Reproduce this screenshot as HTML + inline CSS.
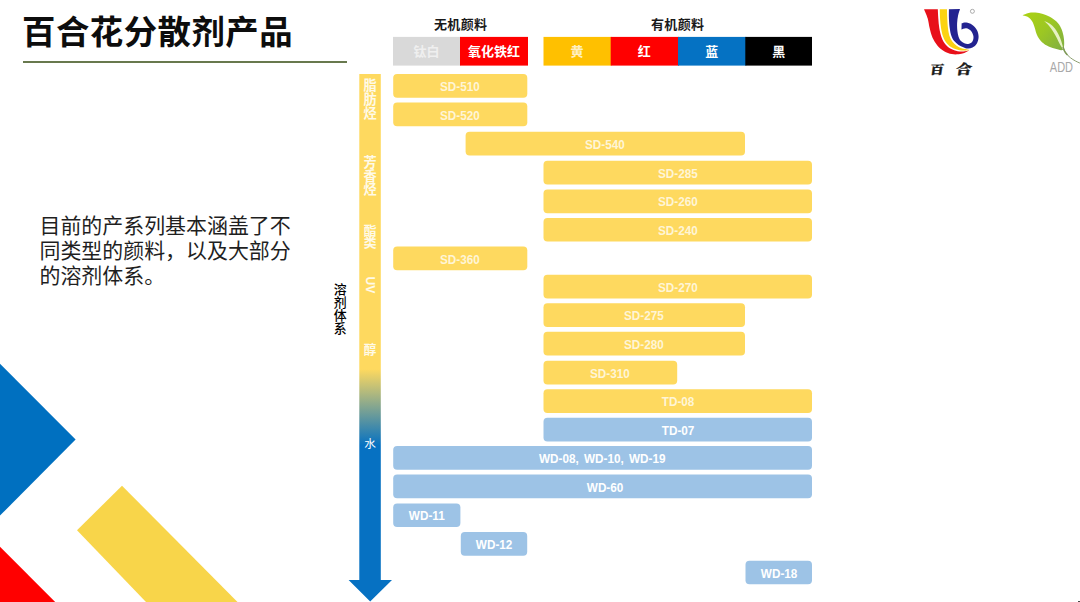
<!DOCTYPE html>
<html lang="zh-CN">
<head>
<meta charset="utf-8">
<title>百合花分散剂产品</title>
<style>
html,body{margin:0;padding:0;background:#fff;}
body{width:1080px;height:602px;overflow:hidden;position:relative;font-family:"Liberation Sans","Noto Sans CJK SC",sans-serif;}
#slide{position:absolute;left:0;top:0;width:1080px;height:602px;overflow:hidden;background:#fff;}
.abs{position:absolute;}
h1{position:absolute;left:22px;top:9.3px;margin:0;font-size:33.4px;line-height:48px;font-weight:700;color:#0d0d0d;white-space:nowrap;letter-spacing:0.5px;}
.rule{position:absolute;left:23px;top:60.7px;width:324px;height:2px;background:#68794E;}
.para{position:absolute;left:39.5px;top:214.3px;width:260px;margin:0;font-size:20.95px;line-height:24.9px;color:#1f1f1f;white-space:nowrap;}
.grp{position:absolute;top:16.4px;font-size:13px;line-height:18px;font-weight:700;color:#1a1a1a;text-align:center;white-space:nowrap;letter-spacing:0.3px;text-indent:0.3px;}
.hd{position:absolute;top:36.9px;height:28.7px;line-height:30.4px;color:#fff;font-size:13px;font-weight:700;text-align:center;white-space:nowrap;}
.hd.dim{color:#efefef;font-weight:700;}
.hd.b{font-weight:700;line-height:30.4px;}
.hd.dimy{color:#FFF0C4;font-weight:700;}
.bar{position:absolute;height:23.7px;line-height:26.3px;border-radius:4px;color:#fff;font-size:12.3px;overflow:hidden;font-weight:700;text-align:center;white-space:nowrap;}
.bar span{display:inline-block;transform:scaleX(0.955);word-spacing:2px;}
.bar.y{color:#FFF5D6;}
.vt{position:absolute;left:359.3px;width:21.5px;text-align:center;color:#fff;font-size:13.2px;line-height:14px;font-weight:400;}
.vt.dim{color:#FFFAE8;font-weight:700;}
.axis{position:absolute;left:333.2px;top:282.8px;width:14px;text-align:center;font-size:12.9px;line-height:13.15px;color:#000;font-weight:500;}
</style>
</head>
<body>
<div id="slide">

<!-- decorative corner shapes -->
<svg class="abs" style="left:0;top:340px" width="270" height="262" viewBox="0 340 270 262">
  <polygon points="0,363.8 75.6,439.6 0,515.6" fill="#0070C0"/>
  <polygon points="122,485.7 237.5,602 146,602 77,530.3" fill="#F8D54A"/>
  <polygon points="0,546.7 55.2,602 0,602" fill="#FF0000"/>
</svg>

<h1>百合花分散剂产品</h1>
<div class="rule"></div>

<p class="para">目前的产系列基本涵盖了不<br>同类型的颜料，以及大部分<br>的溶剂体系。</p>

<!-- chart geometry -->
<svg class="abs" style="left:0;top:0" width="1080" height="602" viewBox="0 0 1080 602">
  <rect x="393.2" y="74.10" width="134.1" height="23.7" rx="4" fill="#FED95F"/>
  <rect x="393.2" y="102.52" width="134.1" height="23.7" rx="4" fill="#FED95F"/>
  <rect x="465.6" y="131.74" width="279.4" height="23.7" rx="4" fill="#FED95F"/>
  <rect x="543.5" y="160.76" width="268.5" height="23.7" rx="4" fill="#FED95F"/>
  <rect x="543.5" y="189.48" width="268.5" height="23.7" rx="4" fill="#FED95F"/>
  <rect x="543.5" y="217.90" width="268.5" height="23.7" rx="4" fill="#FED95F"/>
  <rect x="393.2" y="246.52" width="134.1" height="23.7" rx="4" fill="#FED95F"/>
  <rect x="543.5" y="274.84" width="268.5" height="23.7" rx="4" fill="#FED95F"/>
  <rect x="543.5" y="303.36" width="201.5" height="23.7" rx="4" fill="#FED95F"/>
  <rect x="543.5" y="331.78" width="201.5" height="23.7" rx="4" fill="#FED95F"/>
  <rect x="543.5" y="360.70" width="133.7" height="23.7" rx="4" fill="#FED95F"/>
  <rect x="543.5" y="389.32" width="268.5" height="23.7" rx="4" fill="#FED95F"/>
  <rect x="543.5" y="417.74" width="268.5" height="23.7" rx="4" fill="#9DC3E6"/>
  <rect x="393.2" y="445.96" width="418.8" height="23.7" rx="4" fill="#9DC3E6"/>
  <rect x="393.2" y="474.58" width="418.8" height="23.7" rx="4" fill="#9DC3E6"/>
  <rect x="393.2" y="503.40" width="67.2" height="23.7" rx="4" fill="#9DC3E6"/>
  <rect x="460.8" y="532.02" width="66.4" height="23.7" rx="4" fill="#9DC3E6"/>
  <rect x="745.5" y="560.64" width="66.5" height="23.7" rx="4" fill="#9DC3E6"/>
  <rect x="393" y="36.9" width="68.0" height="28.7" fill="#D9D9D9"/>
  <rect x="460" y="36.9" width="68.0" height="28.7" fill="#FF0000"/>
  <rect x="543.5" y="36.9" width="68.2" height="28.7" fill="#FFC000"/>
  <rect x="610.7" y="36.9" width="68.3" height="28.7" fill="#FF0000"/>
  <rect x="678" y="36.9" width="68.3" height="28.7" fill="#0572C3"/>
  <rect x="745.3" y="36.9" width="66.7" height="28.7" fill="#000000"/>
</svg>

<!-- column group titles -->
<div class="grp" style="left:393px;width:135px">无机颜料</div>
<div class="grp" style="left:543px;width:269px">有机颜料</div>
<div class="hd dim" style="left:393px;width:67.0px">钛白</div>
<div class="hd b" style="left:460px;width:68.0px">氧化铁红</div>
<div class="hd dimy" style="left:543.5px;width:67.2px">黄</div>
<div class="hd " style="left:610.7px;width:67.3px">红</div>
<div class="hd " style="left:678px;width:67.3px">蓝</div>
<div class="hd " style="left:745.3px;width:66.7px">黑</div>

<!-- solvent axis arrow -->
<svg class="abs" style="left:340px;top:70px" width="60" height="532" viewBox="340 70 60 532">
  <defs>
    <linearGradient id="ag" gradientUnits="userSpaceOnUse" x1="0" y1="74" x2="0" y2="601">
      <stop offset="0" stop-color="#FED95F"/>
      <stop offset="0.56" stop-color="#FED95F"/>
      <stop offset="0.705" stop-color="#0671C2"/>
      <stop offset="1" stop-color="#0671C2"/>
    </linearGradient>
  </defs>
  <polygon points="359.3,74.1 380.8,74.1 380.8,580 392,580 370.2,601.6 348.6,580 359.3,580" fill="url(#ag)"/>
</svg>
<div class="vt dim" style="top:78.5px;line-height:14.2px">脂<br>肪<br>烃</div>
<div class="vt dim" style="top:156.4px;line-height:13.2px">芳<br>香<br>烃</div>
<div class="vt dim" style="top:224.6px;line-height:12.3px;font-size:12.8px">酯<br>类</div>
<div class="vt dim" style="top:275.5px;height:18px;line-height:18px;font-size:12.2px;font-weight:700"><span style="display:inline-block;transform:rotate(90deg)">UV</span></div>
<div class="vt dim" style="top:343px;font-size:12.6px">醇</div>
<div class="vt" style="top:437.4px;font-size:11.6px">水</div>
<div class="axis">溶<br>剂<br>体<br>系</div>

<!-- product bars -->
<div class="bar y" style="left:393.2px;top:74.10px;width:134.1px"><span>SD-510</span></div>
<div class="bar y" style="left:393.2px;top:102.52px;width:134.1px"><span>SD-520</span></div>
<div class="bar y" style="left:465.6px;top:131.74px;width:279.4px"><span>SD-540</span></div>
<div class="bar y" style="left:543.5px;top:160.76px;width:268.5px"><span>SD-285</span></div>
<div class="bar y" style="left:543.5px;top:189.48px;width:268.5px"><span>SD-260</span></div>
<div class="bar y" style="left:543.5px;top:217.90px;width:268.5px"><span>SD-240</span></div>
<div class="bar y" style="left:393.2px;top:246.52px;width:134.1px"><span>SD-360</span></div>
<div class="bar y" style="left:543.5px;top:274.84px;width:268.5px"><span>SD-270</span></div>
<div class="bar y" style="left:543.5px;top:303.36px;width:201.5px"><span>SD-275</span></div>
<div class="bar y" style="left:543.5px;top:331.78px;width:201.5px"><span>SD-280</span></div>
<div class="bar y" style="left:543.5px;top:360.70px;width:133.7px"><span>SD-310</span></div>
<div class="bar y" style="left:543.5px;top:389.32px;width:268.5px"><span>TD-08</span></div>
<div class="bar b" style="left:543.5px;top:417.74px;width:268.5px"><span>TD-07</span></div>
<div class="bar b" style="left:393.2px;top:445.96px;width:418.8px"><span>WD-08, WD-10, WD-19</span></div>
<div class="bar b" style="left:393.2px;top:474.58px;width:418.8px;text-indent:3px"><span>WD-60</span></div>
<div class="bar b" style="left:393.2px;top:503.40px;width:67.2px"><span>WD-11</span></div>
<div class="bar b" style="left:460.8px;top:532.02px;width:66.4px"><span>WD-12</span></div>
<div class="bar b" style="left:745.5px;top:560.64px;width:66.5px"><span>WD-18</span></div>

<!-- logos -->
<svg class="abs" style="left:910px;top:0" width="90" height="90" viewBox="0 0 90 90">
  <path d="M14.05,9.30 C14.66,10.83 16.78,15.33 17.71,18.46 C18.64,21.59 18.84,24.88 19.64,28.10 C20.44,31.31 21.24,34.84 22.53,37.73 C23.82,40.63 25.42,43.20 27.35,45.45 C29.28,47.69 31.69,49.78 34.10,51.23 C36.51,52.67 39.40,53.61 41.81,54.12 C44.22,54.63 46.47,54.51 48.55,54.31 C50.64,54.12 52.54,53.64 54.34,52.96 C56.14,52.29 58.51,50.71 59.35,50.27 L59.35,50.27 C58.35,50.47 55.33,51.36 53.37,51.52 C51.41,51.68 49.68,51.68 47.59,51.23 C45.50,50.78 42.85,49.94 40.84,48.82 C38.84,47.69 37.07,46.33 35.54,44.48 C34.02,42.63 32.73,40.47 31.69,37.73 C30.64,35.00 29.84,31.31 29.28,28.10 C28.71,24.88 28.55,21.59 28.31,18.46 C28.07,15.33 27.91,10.83 27.83,9.30 Z" fill="#E8101A"/>
  <path d="M29.76,9.30 C29.81,10.83 29.84,15.33 30.05,18.46 C30.26,21.59 30.50,25.04 31.01,28.10 C31.53,31.15 32.14,34.20 33.13,36.77 C34.13,39.34 35.46,41.67 36.99,43.52 C38.51,45.37 40.36,46.76 42.29,47.86 C44.22,48.95 46.55,49.62 48.55,50.07 C50.56,50.52 52.54,50.59 54.34,50.55 C56.14,50.52 58.51,49.99 59.35,49.88 L59.35,49.88 C58.67,49.75 56.62,49.40 55.30,49.11 C53.98,48.82 52.89,48.71 51.45,48.14 C50.00,47.58 48.15,46.83 46.63,45.73 C45.10,44.64 43.49,43.24 42.29,41.59 C41.08,39.94 40.12,38.06 39.40,35.81 C38.67,33.56 38.31,30.99 37.95,28.10 C37.60,25.20 37.44,21.59 37.28,18.46 C37.12,15.33 37.04,10.83 36.99,9.30 Z" fill="#FBD311"/>
  <path d="M38.92,9.30 C38.92,10.83 38.79,15.33 38.92,18.46 C39.04,21.59 39.29,25.20 39.69,28.10 C40.09,30.99 40.57,33.64 41.33,35.81 C42.08,37.98 43.01,39.58 44.22,41.11 C45.42,42.63 47.03,43.95 48.55,44.96 C50.08,45.98 51.85,46.59 53.37,47.18 C54.90,47.78 56.18,48.47 57.71,48.53 C59.24,48.59 61.00,48.40 62.53,47.57 C64.06,46.73 65.86,45.32 66.87,43.52 C67.88,41.72 68.60,39.02 68.60,36.77 C68.60,34.52 67.96,32.03 66.87,30.02 C65.78,28.02 63.82,25.98 62.05,24.72 C60.28,23.47 58.00,22.75 56.27,22.51 C54.53,22.27 52.41,23.15 51.64,23.28 L51.45,29.54 C52.25,29.33 54.66,28.05 56.27,28.29 C57.87,28.53 59.88,29.57 61.08,30.99 C62.29,32.40 63.33,34.92 63.49,36.77 C63.65,38.62 62.93,40.87 62.05,42.07 C61.16,43.28 59.48,43.79 58.19,44.00 C56.91,44.21 55.54,43.81 54.34,43.33 C53.13,42.84 51.93,42.20 50.96,41.11 C50.00,40.02 49.15,38.46 48.55,36.77 C47.96,35.08 47.64,33.24 47.40,30.99 C47.16,28.74 47.00,25.85 47.11,23.28 C47.22,20.71 47.59,17.94 48.07,15.57 C48.55,13.19 49.68,10.10 50.00,9.01 Z" fill="#232390"/>
  <circle cx="62.4" cy="11.3" r="2" fill="none" stroke="#8a8a8a" stroke-width="0.7"/>
  <text x="20.4" y="74.2" font-family="'Liberation Serif','Noto Serif CJK SC',serif" font-weight="900" font-size="12.2" fill="#1a1a1a" stroke="#1a1a1a" stroke-width="0.35" textLength="14" lengthAdjust="spacingAndGlyphs" transform="translate(9.6,0) skewX(-8)">百</text>
  <text x="46.2" y="74.3" font-family="'Liberation Serif','Noto Serif CJK SC',serif" font-weight="900" font-size="13.4" fill="#1a1a1a" stroke="#1a1a1a" stroke-width="0.35" textLength="16.1" lengthAdjust="spacingAndGlyphs" transform="translate(9.6,0) skewX(-8)">合</text>
</svg>
<svg class="abs" style="left:1000px;top:0" width="80" height="90" viewBox="0 0 80 90">
  <defs>
    <linearGradient id="lg" gradientUnits="userSpaceOnUse" x1="28" y1="14" x2="66" y2="48">
      <stop offset="0" stop-color="#A9D015"/>
      <stop offset="0.45" stop-color="#9CC723"/>
      <stop offset="1" stop-color="#7FAE43"/>
    </linearGradient>
  </defs>
  <path d="M22.55,15.16 C23.55,14.79 26.41,13.37 28.53,12.94 C30.65,12.51 32.87,12.39 35.28,12.55 C37.69,12.71 40.58,13.20 42.99,13.90 C45.40,14.61 47.49,15.51 49.73,16.80 C51.98,18.08 54.59,19.72 56.48,21.61 C58.38,23.51 59.94,25.79 61.11,28.17 C62.28,30.55 63.00,33.47 63.52,35.88 C64.03,38.29 64.14,40.46 64.19,42.63 C64.24,44.80 63.87,47.85 63.81,48.89 L63.81,48.89 C63.39,49.10 62.84,50.19 61.30,50.14 C59.76,50.10 56.96,49.37 54.55,48.60 C52.14,47.83 49.09,46.76 46.84,45.52 C44.59,44.28 42.70,42.95 41.06,41.18 C39.42,39.41 38.04,37.08 37.01,34.92 C35.98,32.75 35.63,30.34 34.89,28.17 C34.15,26.00 33.56,23.64 32.58,21.90 C31.60,20.17 30.09,18.71 29.01,17.76 C27.94,16.81 27.20,16.65 26.12,16.22 C25.04,15.78 23.15,15.33 22.55,15.16 Z" fill="url(#lg)"/>
  <path d="M44.14,21.04 C45.27,21.61 48.87,22.93 50.89,24.51 C52.92,26.08 54.78,28.30 56.29,30.48 C57.80,32.67 58.96,35.27 59.95,37.61 C60.95,39.96 61.62,42.40 62.27,44.55 C62.91,46.71 63.55,49.53 63.81,50.53 L63.81,50.53 C63.20,49.57 61.27,46.74 60.14,44.75 C59.02,42.76 58.18,40.70 57.06,38.58 C55.94,36.46 54.75,34.18 53.40,32.02 C52.05,29.87 50.51,27.49 48.96,25.66 C47.42,23.83 44.95,21.81 44.14,21.04 Z" fill="#E6F1C4"/>
  <path d="M63.23,47.45 C63.47,48.09 63.87,49.94 64.67,51.30 C65.48,52.67 66.68,54.27 68.05,55.64 C69.41,57.00 71.26,58.42 72.87,59.49 C74.47,60.57 76.40,61.45 77.69,62.10 C78.97,62.74 80.10,63.14 80.58,63.35 " fill="none" stroke="#7F9460" stroke-width="0.9" stroke-linecap="round"/>
  <path d="M63.23,47.45 C63.47,48.09 64.03,50.10 64.67,51.30 C65.32,52.51 66.68,54.11 67.08,54.67 " fill="none" stroke="#7F9A58" stroke-width="1.5" stroke-linecap="round"/>
  <text x="49.8" y="71.9" font-family="'Liberation Sans',sans-serif" font-size="14" fill="#a8a8a8" textLength="23.2" lengthAdjust="spacingAndGlyphs">ADD</text>
</svg>

<div class="abs" style="left:1078px;top:600.6px;width:2px;height:1.4px;background:#4a4a4a"></div>
</div>
</body>
</html>
